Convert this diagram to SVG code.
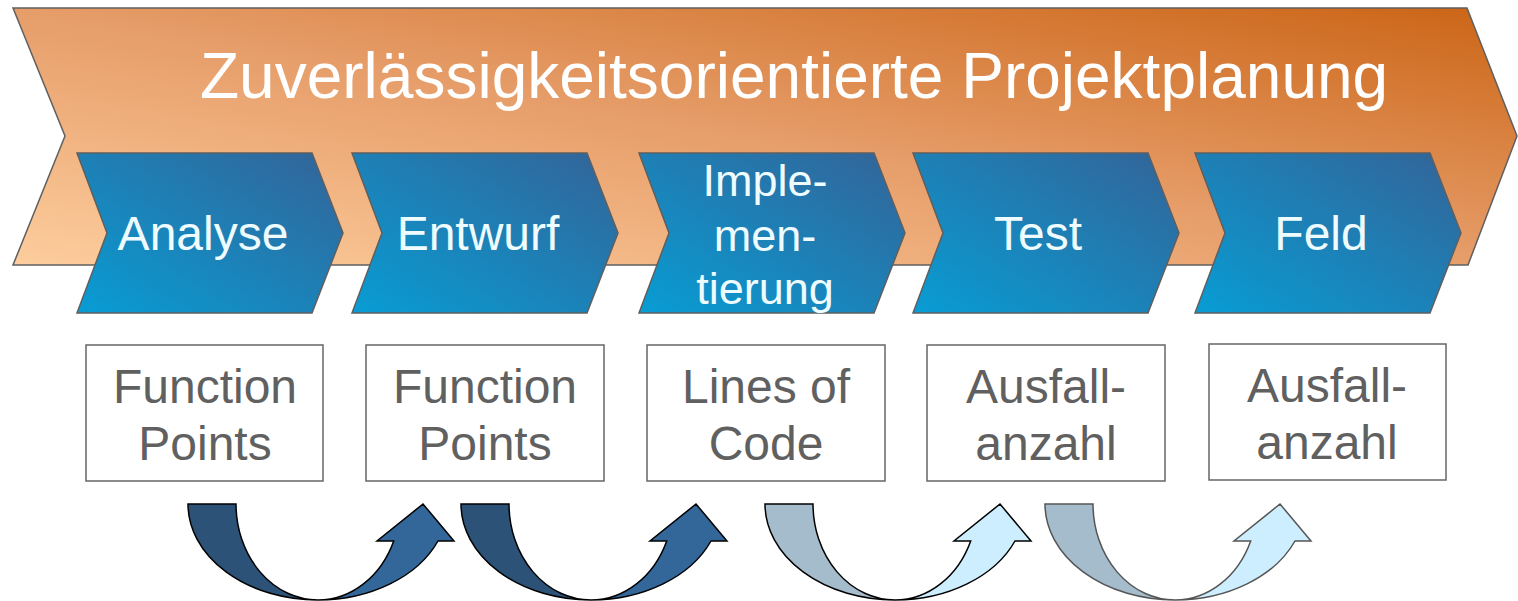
<svg xmlns="http://www.w3.org/2000/svg" width="1518" height="601" viewBox="0 0 1518 601">
<defs>
<linearGradient id="gOrange" x1="0" y1="1" x2="1" y2="0">
<stop offset="0" stop-color="#fdcd9d"/>
<stop offset="0.5" stop-color="#e69d69"/>
<stop offset="1" stop-color="#cb6415"/>
</linearGradient>
<linearGradient id="gBlue" x1="0" y1="1" x2="1" y2="0">
<stop offset="0" stop-color="#079dd4"/>
<stop offset="1" stop-color="#346397"/>
</linearGradient>
<path id="arrL" d="M 188 504 L 236 504 A 82 96 0 0 0 318 600 A 130 96 0 0 1 188 504 Z"/>
<path id="arrR" d="M 318 600 A 82 96 0 0 0 393.7 541 L 377 541 L 423 504 L 454 541 L 438 541 A 130 96 0 0 1 318 600 Z"/>
</defs>
<style>
.big{fill:url(#gOrange);stroke:#5f5f5f;stroke-width:1.5}
.chev{fill:url(#gBlue);stroke:#5f5f5f;stroke-width:1.5}
.ct{font-family:"Liberation Sans",Arial,sans-serif;font-size:48px;fill:#eefcff;text-anchor:middle}
.ct2{font-family:"Liberation Sans",Arial,sans-serif;font-size:45px;fill:#eefcff;text-anchor:middle}
.title{font-family:"Liberation Sans",Arial,sans-serif;font-size:64px;fill:#ffffff}
.box{fill:#ffffff;stroke:#666666;stroke-width:1.5}
.bt{font-family:"Liberation Sans",Arial,sans-serif;font-size:48px;fill:#606060;text-anchor:middle}
.dk{fill:#2c5278;stroke:#000;stroke-width:1.5}
.md{fill:#336699;stroke:#000;stroke-width:1.5}
.lg{fill:#a5bccc;stroke:#000;stroke-width:1.5}
.lt{fill:#cceeff;stroke:#000;stroke-width:1.5}
.gray .lg,.gray .lt{stroke:#555555}
</style>
<g id="phase-main">
<polygon class="big" points="13,8 1467,8 1517,136 1468,265 13,265 65,136"/>
<text class="title" x="200" y="98">Zuverlässigkeitsorientierte Projektplanung</text>
</g>
<g id="phase-analyse">
<polygon class="chev" points="77,153 312,153 343,233 312,313 77,313 107,233"/>
<text class="ct" x="203" y="250">Analyse</text>
</g>
<g id="phase-entwurf">
<polygon class="chev" points="352,153 587,153 618,233 587,313 352,313 382,233"/>
<text class="ct" x="478" y="250">Entwurf</text>
</g>
<g id="phase-impl">
<polygon class="chev" points="639,153 874,153 905,233 874,313 639,313 669,233"/>
<text class="ct2" x="765" y="196">Imple-</text>
<text class="ct2" x="765" y="251">men-</text>
<text class="ct2" x="765" y="304">tierung</text>
</g>
<g id="phase-test">
<polygon class="chev" points="913,153 1148,153 1179,233 1148,313 913,313 943,233"/>
<text class="ct" x="1038" y="250">Test</text>
</g>
<g id="phase-feld">
<polygon class="chev" points="1195,153 1430,153 1461,233 1430,313 1195,313 1225,233"/>
<text class="ct" x="1321" y="250">Feld</text>
</g>
<g id="box-1">
<rect class="box" x="86" y="345" width="237" height="136"/>
<text class="bt" x="205" y="403">Function</text>
<text class="bt" x="205" y="460">Points</text>
</g>
<g id="box-2">
<rect class="box" x="366" y="345" width="238" height="136"/>
<text class="bt" x="485" y="403">Function</text>
<text class="bt" x="485" y="460">Points</text>
</g>
<g id="box-3">
<rect class="box" x="647" y="345" width="238" height="136"/>
<text class="bt" x="766" y="403">Lines of</text>
<text class="bt" x="766" y="460">Code</text>
</g>
<g id="box-4">
<rect class="box" x="927" y="345" width="238" height="136"/>
<text class="bt" x="1046" y="403">Ausfall-</text>
<text class="bt" x="1046" y="460">anzahl</text>
</g>
<g id="box-5">
<rect class="box" x="1209" y="344" width="237" height="136"/>
<text class="bt" x="1327" y="402">Ausfall-</text>
<text class="bt" x="1327" y="459">anzahl</text>
</g>
<g id="connectors">
<g transform="translate(0,0)"><use href="#arrL" class="dk"/><use href="#arrR" class="md"/></g>
<g transform="translate(273,0)"><use href="#arrL" class="dk"/><use href="#arrR" class="md"/></g>
<g transform="translate(577,0)"><use href="#arrL" class="lg"/><use href="#arrR" class="lt"/></g>
<g class="gray" transform="translate(857,0)"><use href="#arrL" class="lg"/><use href="#arrR" class="lt"/></g>
</g>
</svg>
